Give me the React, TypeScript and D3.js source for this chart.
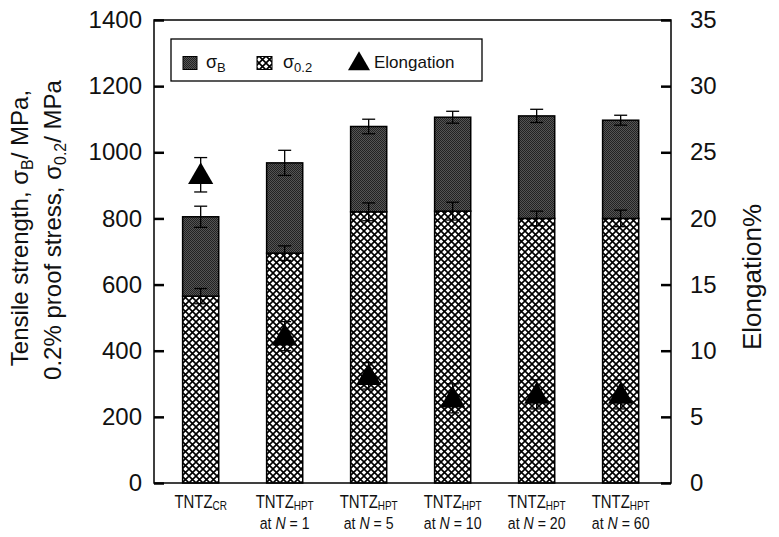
import React, { useEffect, useRef } from 'react';
import * as d3 from 'd3';

// categories (bar groups)
const groups = ['CR', 'N1', 'N5', 'N10', 'N20', 'N60'];
const groupSub = ['CR', 'HPT', 'HPT', 'HPT', 'HPT', 'HPT'];
const groupN = ['', '1', '5', '10', '20', '60'];

// tensile strength sigma_B (MPa) and error
const sigmaB = [805, 968, 1078, 1106, 1110, 1097];
const sigmaBErr = [32, 38, 22, 18, 20, 15];

// 0.2% proof stress (MPa) and error
const sigma02 = [565, 695, 820, 822, 800, 800];
const sigma02Err = [23, 22, 27, 27, 22, 25];

// elongation (%) and error
const elong = [23.3, 11.1, 8.1, 6.4, 6.7, 6.7];
const elongErr = [1.3, 1.1, 1.0, 1.1, 1.1, 1.1];

const leftTicks = [0, 200, 400, 600, 800, 1000, 1200, 1400];
const rightTicks = [0, 5, 10, 15, 20, 25, 30, 35];

const W = 779;
const H = 537;
const FONT = '"Liberation Sans", Arial, Helvetica, sans-serif';

const App = () => {
    const svgRef = useRef<SVGSVGElement>(null);

    useEffect(() => {
        if (!svgRef.current) return;
        const svg = d3.select(svgRef.current);
        svg.selectAll('*').remove();

        const frame = { left: 154, right: 671, top: 20, bottom: 483 };

        const x = d3.scaleBand()
            .domain(groups)
            .range([frame.left, frame.right])
            .paddingInner(0.57)
            .paddingOuter(0.3625)
            .align(0.47);

        const y = d3.scaleLinear().domain([0, 1400]).range([frame.bottom, frame.top]);
        const y2 = d3.scaleLinear().domain([0, 35]).range([frame.bottom, frame.top]);

        // patterns
        const defs = svg.append('defs');
        const hatch = defs.append('pattern')
            .attr('id', 'hatch')
            .attr('patternUnits', 'userSpaceOnUse')
            .attr('width', 7)
            .attr('height', 7);
        hatch.append('rect').attr('width', 7).attr('height', 7).attr('fill', '#fff');
        hatch.append('path')
            .attr('d', 'M-1,-1L8,8M8,-1L-1,8')
            .attr('stroke', '#000')
            .attr('stroke-width', 1.6);

        const dark = defs.append('pattern')
            .attr('id', 'dark')
            .attr('patternUnits', 'userSpaceOnUse')
            .attr('width', 2)
            .attr('height', 2);
        dark.append('rect').attr('width', 2).attr('height', 2).attr('fill', '#555');
        dark.append('rect').attr('width', 1).attr('height', 1).attr('fill', '#222');
        dark.append('rect').attr('x', 1).attr('y', 1).attr('width', 1).attr('height', 1).attr('fill', '#222');

        const bw = x.bandwidth();
        const cx = (i: number) => (x(groups[i]) as number) + bw / 2;

        // bars
        const bars = svg.append('g');
        groups.forEach((g, i) => {
            bars.append('rect')
                .attr('x', x(g) as number)
                .attr('y', y(sigma02[i]))
                .attr('width', bw)
                .attr('height', y(0) - y(sigma02[i]))
                .attr('fill', 'url(#hatch)')
                .attr('stroke', '#000')
                .attr('stroke-width', 1.5);
            bars.append('rect')
                .attr('x', x(g) as number)
                .attr('y', y(sigmaB[i]))
                .attr('width', bw)
                .attr('height', y(sigma02[i]) - y(sigmaB[i]))
                .attr('fill', 'url(#dark)')
                .attr('stroke', '#000')
                .attr('stroke-width', 1.5);
        });

        // error bars
        const errG = svg.append('g').attr('stroke', '#000').attr('stroke-width', 1.3);
        const cap = 6.5;
        const drawErr = (xc: number, yTop: number, yBot: number) => {
            errG.append('line').attr('x1', xc).attr('x2', xc).attr('y1', yTop).attr('y2', yBot);
            errG.append('line').attr('x1', xc - cap).attr('x2', xc + cap).attr('y1', yTop).attr('y2', yTop);
            errG.append('line').attr('x1', xc - cap).attr('x2', xc + cap).attr('y1', yBot).attr('y2', yBot);
        };
        groups.forEach((g, i) => {
            drawErr(cx(i), y(sigmaB[i] + sigmaBErr[i]), y(sigmaB[i] - sigmaBErr[i]));
            drawErr(cx(i), y(sigma02[i] + sigma02Err[i]), y(sigma02[i] - sigma02Err[i]));
            drawErr(cx(i), y2(elong[i] + elongErr[i]), y2(elong[i] - elongErr[i]));
        });

        // elongation markers
        const tri = d3.symbol().type(d3.symbolTriangle).size(275);
        svg.append('g')
            .selectAll('path')
            .data(elong)
            .join('path')
            .attr('d', tri() as string)
            .attr('transform', (d, i) => `translate(${cx(i)},${y2(d) + 2})`)
            .attr('fill', '#000');

        // frame
        svg.append('rect')
            .attr('x', frame.left)
            .attr('y', frame.top)
            .attr('width', frame.right - frame.left)
            .attr('height', frame.bottom - frame.top)
            .attr('fill', 'none')
            .attr('stroke', '#000')
            .attr('stroke-width', 1.5);

        // axes
        const styleAxis = (sel: any) => {
            sel.select('.domain').remove();
            sel.selectAll('.tick line').attr('stroke', '#000').attr('stroke-width', 2.5);
            sel.selectAll('.tick text')
                .attr('fill', '#111')
                .style('font-family', FONT)
                .style('font-size', '24px');
        };

        svg.append('g')
            .attr('transform', `translate(${frame.left},0)`)
            .call(d3.axisLeft(y).tickValues(leftTicks).tickFormat(d3.format('d')).tickSizeInner(-10).tickSizeOuter(0).tickPadding(12))
            .call(styleAxis);

        svg.append('g')
            .attr('transform', `translate(${frame.right},0)`)
            .call(d3.axisRight(y2).tickValues(rightTicks).tickFormat(d3.format('d')).tickSizeInner(-10).tickSizeOuter(0).tickPadding(19))
            .call(styleAxis);

        // x labels
        const xl = svg.append('g').style('font-family', FONT).attr('fill', '#111');
        groups.forEach((g, i) => {
            const lg = xl.append('g').attr('transform', `translate(${cx(i)},0) scale(0.83,1)`);
            const t1 = lg.append('text')
                .attr('x', 0)
                .attr('y', 508)
                .attr('text-anchor', 'middle')
                .style('font-size', '18px');
            t1.append('tspan').text('TNTZ');
            t1.append('tspan').attr('dy', 2).style('font-size', '12px').text(groupSub[i]);
            if (groupN[i]) {
                const t2 = lg.append('text')
                    .attr('x', 0)
                    .attr('y', 529)
                    .attr('text-anchor', 'middle')
                    .style('font-size', '17px');
                t2.append('tspan').text('at ');
                t2.append('tspan').style('font-style', 'italic').text('N');
                t2.append('tspan').text(` = ${groupN[i]}`);
            }
        });

        // y axis titles
        const yt = svg.append('g').style('font-family', FONT).attr('fill', '#111').style('font-size', '24px');
        const l1 = yt.append('text')
            .attr('transform', 'translate(28,228) rotate(-90)')
            .attr('text-anchor', 'middle');
        l1.append('tspan').text('Tensile strength, σ');
        l1.append('tspan').attr('dy', 5).style('font-size', '16px').text('B');
        l1.append('tspan').attr('dy', -5).text('/ MPa,');

        const l2 = yt.append('text')
            .attr('transform', 'translate(61,230) rotate(-90)')
            .attr('text-anchor', 'middle');
        l2.append('tspan').text('0.2% proof stress, σ');
        l2.append('tspan').attr('dy', 5).style('font-size', '16px').text('0.2');
        l2.append('tspan').attr('dy', -5).text('/ MPa');

        yt.append('text')
            .attr('transform', 'translate(761,277) rotate(-90)')
            .attr('text-anchor', 'middle')
            .style('font-size', '26px')
            .text('Elongation%');

        // legend
        const lgd = svg.append('g').style('font-family', FONT).attr('fill', '#111');
        lgd.append('rect')
            .attr('x', 171).attr('y', 39).attr('width', 311).attr('height', 42)
            .attr('fill', '#fff').attr('stroke', '#000').attr('stroke-width', 1.3);
        lgd.append('rect')
            .attr('x', 183).attr('y', 56.5).attr('width', 14).attr('height', 13)
            .attr('fill', 'url(#dark)').attr('stroke', '#000').attr('stroke-width', 1);
        const s1 = lgd.append('text').attr('x', 206).attr('y', 68).style('font-size', '18px');
        s1.append('tspan').text('σ');
        s1.append('tspan').attr('dy', 4).style('font-size', '13px').text('B');

        lgd.append('rect')
            .attr('x', 257).attr('y', 56.5).attr('width', 15).attr('height', 13)
            .attr('fill', 'url(#hatch)').attr('stroke', '#000').attr('stroke-width', 1);
        const s2 = lgd.append('text').attr('x', 283).attr('y', 68).style('font-size', '18px');
        s2.append('tspan').text('σ');
        s2.append('tspan').attr('dy', 4).style('font-size', '13px').text('0.2');

        lgd.append('path')
            .attr('d', d3.symbol().type(d3.symbolTriangle).size(210)() as string)
            .attr('transform', 'translate(359,64)')
            .attr('fill', '#000');
        lgd.append('text').attr('x', 374).attr('y', 68).style('font-size', '17px').text('Elongation');
    }, []);

    return (
        <svg
            ref={svgRef}
            width={W}
            height={H}
            style={{ position: 'absolute', left: 0, top: 0, background: '#fff' }}
        />
    );
};

export default App;
